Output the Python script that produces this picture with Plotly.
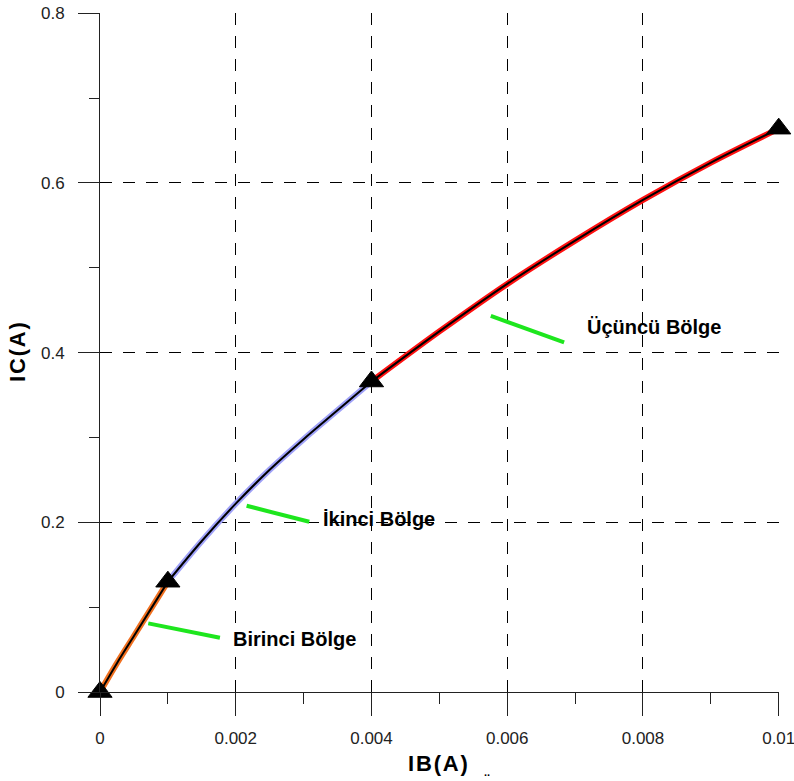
import plotly.graph_objects as go

# ---- data ----
ib_region1 = [0.0, 0.00025, 0.0005, 0.00075, 0.001]
ic_region1 = [0.0, 0.034, 0.066, 0.098, 0.130]

ib_region2 = [0.001, 0.0015, 0.002, 0.0025, 0.003, 0.0035, 0.004]
ic_region2 = [0.130, 0.178, 0.222, 0.262, 0.298, 0.332, 0.366]

ib_region3 = [0.004, 0.005, 0.006, 0.007, 0.008, 0.009, 0.010]
ic_region3 = [0.366, 0.425, 0.481, 0.532, 0.580, 0.624, 0.664]

ib_points = [0.0, 0.001, 0.004, 0.010]
ic_points = [0.0, 0.130, 0.366, 0.664]

region_labels = ["Birinci Bölge", "İkinci Bölge", "Üçüncü Bölge"]
# label anchor (data coords) and leader line endpoints (data coords)
label_x = [0.00193, 0.003255, 0.007143]
label_y = [0.0624, 0.2038, 0.430]
leader_x0 = [0.000711, 0.00216, 0.005758]
leader_y0 = [0.0809, 0.2195, 0.4434]
leader_x1 = [0.001767, 0.003083, 0.006838]
leader_y1 = [0.0640, 0.2006, 0.4120]

x_ticks = [0, 0.002, 0.004, 0.006, 0.008, 0.01]
x_ticktext = ["0", "0.002", "0.004", "0.006", "0.008", "0.01"]
y_ticks = [0, 0.2, 0.4, 0.6, 0.8]
y_ticktext = ["0", "0.2", "0.4", "0.6", "0.8"]

halo_colors = ["#f07020", "#a0a2f8", "#ff1010"]

FONT = "Liberation Sans, Arial, sans-serif"

fig = go.Figure()
segments = [(ib_region1, ic_region1), (ib_region2, ic_region2), (ib_region3, ic_region3)]
for (xs, ys), col in zip(segments, halo_colors):
    fig.add_trace(go.Scatter(x=xs, y=ys, mode="lines",
                             line=dict(color=col, width=6, shape="spline"),
                             hoverinfo="skip", showlegend=False, cliponaxis=False))
    fig.add_trace(go.Scatter(x=xs, y=ys, mode="lines",
                             line=dict(color="black", width=2, shape="spline"),
                             showlegend=False, cliponaxis=False))

fig.add_trace(go.Scatter(x=ib_points, y=ic_points, mode="markers",
                         marker=dict(symbol="triangle-up", size=21, color="black",
                                     line=dict(color="black", width=1)),
                         cliponaxis=False, showlegend=False))

for lx0, ly0, lx1, ly1 in zip(leader_x0, leader_y0, leader_x1, leader_y1):
    fig.add_shape(type="line", x0=lx0, y0=ly0, x1=lx1, y1=ly1, xref="x", yref="y",
                  line=dict(color="#1ee61e", width=4))

for txt, tx, ty in zip(region_labels, label_x, label_y):
    fig.add_annotation(x=tx, y=ty, xref="x", yref="y", text=txt, showarrow=False,
                       xanchor="left", yanchor="middle",
                       font=dict(family=FONT, size=20, color="black", weight="bold"))

W, H = 794, 781
L, R, T, B = 100, 15, 13, 89
pw, ph = W - L - R, H - T - B

# axis titles (pixel positions converted to paper coords)
fig.add_annotation(x=(437.5 - L) / pw, y=(H - B - 763) / ph, xref="paper", yref="paper",
                   text="I\u200aB\u200a(\u200aA\u200a)", showarrow=False,
                   xanchor="center", yanchor="middle",
                   font=dict(family=FONT, size=22, color="black", weight="bold"))
fig.add_annotation(x=(17.5 - L) / pw, y=0.5, xref="paper", yref="paper",
                   text="I\u200aC\u200a(\u200aA\u200a)", showarrow=False, textangle=-90,
                   xanchor="center", yanchor="middle",
                   font=dict(family=FONT, size=22, color="black", weight="bold"))
fig.add_annotation(x=(487 - L) / pw, y=(H - B - 780) / ph, xref="paper", yref="paper",
                   text="..", showarrow=False, xanchor="center", yanchor="bottom",
                   font=dict(family=FONT, size=11, color="black", weight="bold"))

axis_font = dict(family=FONT, size=17, color="#222")
fig.update_xaxes(range=[0, 0.010004], tickmode="array", tickvals=x_ticks, ticktext=x_ticktext,
                 ticks="outside", ticklen=23, tickwidth=1, tickcolor="#222",
                 showline=True, linecolor="#222", linewidth=1,
                 showgrid=True, gridcolor="black", gridwidth=1, griddash="12px,11px",
                 zeroline=False, tickfont=axis_font, ticklabelstandoff=8,
                 ticklabeloverflow="allow",
                 minor=dict(tickvals=[0.001, 0.003, 0.005, 0.007, 0.009], ticks="outside",
                            ticklen=11, tickcolor="#222", tickwidth=1, showgrid=False))
fig.update_yaxes(range=[0, 0.80032], tickmode="array", tickvals=y_ticks, ticktext=y_ticktext,
                 ticks="outside", ticklen=21, tickwidth=1, tickcolor="#222",
                 showline=True, linecolor="#222", linewidth=1,
                 showgrid=True, gridcolor="black", gridwidth=1, griddash="12px,11px",
                 zeroline=False, tickfont=axis_font, ticklabelstandoff=10,
                 ticklabeloverflow="allow",
                 minor=dict(tickvals=[0.1, 0.3, 0.5, 0.7], ticks="outside",
                            ticklen=10, tickcolor="#222", tickwidth=1, showgrid=False))

fig.update_layout(width=W, height=H, margin=dict(l=L, r=R, t=T, b=B, autoexpand=False),
                  plot_bgcolor="white", paper_bgcolor="white", showlegend=False)

fig.write_html("out.html", config={"displayModeBar": False},
               post_script="document.body.style.margin='0';document.body.style.overflow='hidden';")
